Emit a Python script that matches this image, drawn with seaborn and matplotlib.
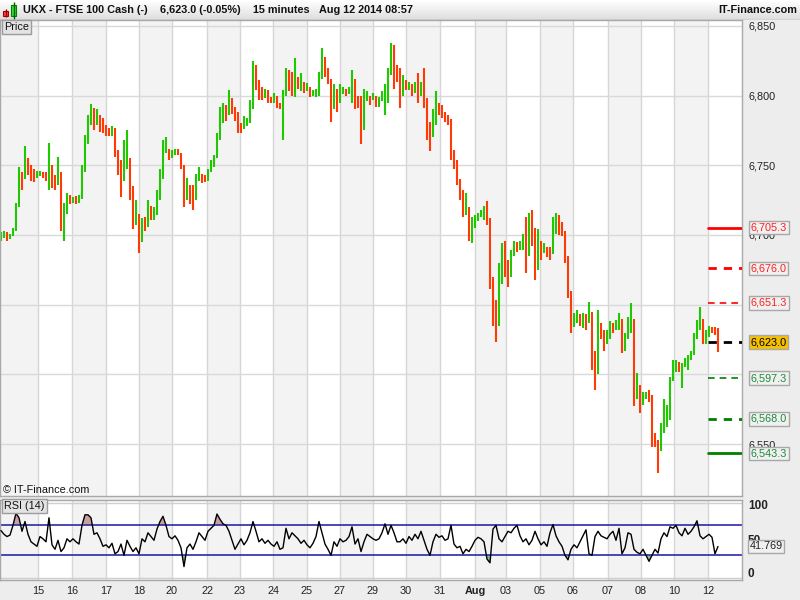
import numpy as np
import pandas as pd
import matplotlib
matplotlib.use("Agg")
import matplotlib.pyplot as plt
import matplotlib.transforms as mtrans
from matplotlib.colors import LinearSegmentedColormap
from matplotlib.patches import Rectangle
from matplotlib.ticker import FuncFormatter
import seaborn as sns

# ---------------- data ----------------
high = [
    6702, 6703, 6702, 6701, 6705, 6723, 6749, 6745, 6764, 6755,
    6750, 6747, 6746, 6746, 6745, 6745, 6766, 6750, 6743, 6756,
    6739, 6723, 6730, 6729, 6727, 6728, 6729, 6750, 6772, 6786,
    6794, 6791, 6790, 6786, 6784, 6779, 6777, 6778, 6777, 6761,
    6754, 6768, 6775, 6747, 6732, 6725, 6709, 6712, 6713, 6725,
    6721, 6720, 6732, 6747, 6768, 6770, 6762, 6761, 6762, 6762,
    6759, 6744, 6741, 6736, 6736, 6744, 6749, 6744, 6743, 6747,
    6754, 6757, 6773, 6792, 6795, 6793, 6804, 6797, 6792, 6785,
    6780, 6785, 6784, 6797, 6825, 6822, 6811, 6806, 6805, 6804,
    6799, 6802, 6799, 6795, 6804, 6820, 6818, 6817, 6827, 6813,
    6816, 6810, 6809, 6805, 6804, 6805, 6817, 6834, 6827, 6820,
    6805, 6808, 6805, 6808, 6806, 6805, 6806, 6818, 6810, 6800,
    6800, 6805, 6803, 6800, 6802, 6800, 6799, 6803, 6808, 6820,
    6838, 6836, 6822, 6820, 6815, 6811, 6810, 6808, 6810, 6816,
    6810, 6820, 6797, 6781, 6790, 6803, 6795, 6793, 6788, 6786,
    6783, 6761, 6754, 6739, 6732, 6730, 6718, 6713, 6714, 6716,
    6718, 6721, 6724, 6696, 6664, 6653, 6680, 6694, 6696, 6682,
    6689, 6696, 6695, 6696, 6701, 6713, 6716, 6718, 6692, 6704,
    6696, 6694, 6691, 6691, 6713, 6716, 6714, 6709, 6699, 6682,
    6653, 6644, 6646, 6643, 6644, 6643, 6652, 6632, 6617, 6646,
    6637, 6632, 6632, 6638, 6637, 6639, 6644, 6637, 6630, 6641,
    6651, 6625, 6601, 6592, 6587, 6587, 6589, 6585, 6558, 6553,
    6565, 6582, 6578, 6598, 6610, 6610, 6609, 6608, 6612, 6614,
    6617, 6630, 6639, 6648, 6634, 6632, 6635, 6634, 6634, 6633,
]
low = [
    6696, 6698, 6696, 6698, 6699, 6707, 6731, 6732, 6750, 6743,
    6739, 6738, 6741, 6742, 6741, 6739, 6732, 6734, 6732, 6736,
    6703, 6696, 6718, 6722, 6723, 6722, 6723, 6726, 6747, 6768,
    6779, 6775, 6779, 6774, 6773, 6771, 6771, 6771, 6756, 6743,
    6727, 6739, 6747, 6725, 6704, 6707, 6687, 6700, 6703, 6709,
    6711, 6711, 6714, 6725, 6743, 6759, 6754, 6755, 6757, 6757,
    6747, 6720, 6725, 6722, 6718, 6732, 6739, 6737, 6738, 6742,
    6747, 6749, 6759, 6775, 6780, 6782, 6787, 6787, 6782, 6773,
    6773, 6778, 6778, 6780, 6809, 6804, 6797, 6797, 6798, 6795,
    6795, 6795, 6791, 6790, 6768, 6804, 6803, 6800, 6799, 6805,
    6803, 6802, 6803, 6799, 6800, 6799, 6800, 6817, 6813, 6808,
    6781, 6796, 6788, 6796, 6801, 6800, 6801, 6795, 6790, 6791,
    6765, 6781, 6796, 6793, 6797, 6792, 6792, 6796, 6786, 6795,
    6815, 6805, 6810, 6791, 6805, 6804, 6804, 6800, 6803, 6795,
    6803, 6791, 6768, 6760, 6772, 6779, 6786, 6784, 6781, 6779,
    6754, 6747, 6736, 6725, 6713, 6714, 6696, 6694, 6706, 6711,
    6713, 6711, 6707, 6661, 6635, 6623, 6653, 6665, 6670, 6663,
    6680, 6689, 6688, 6689, 6689, 6673, 6701, 6692, 6668, 6682,
    6682, 6687, 6684, 6682, 6694, 6701, 6700, 6699, 6680, 6655,
    6630, 6634, 6637, 6635, 6633, 6632, 6637, 6603, 6589, 6617,
    6625, 6617, 6627, 6625, 6630, 6632, 6632, 6615, 6617, 6627,
    6630, 6577, 6582, 6572, 6578, 6582, 6580, 6548, 6548, 6529,
    6546, 6558, 6562, 6567, 6596, 6602, 6602, 6590, 6605, 6603,
    6610, 6617, 6627, 6632, 6622, 6622, 6627, 6630, 6628, 6616,
]
close = [
    6699, 6701, 6697, 6700, 6703, 6720, 6745, 6740, 6755, 6748,
    6745, 6742, 6744, 6745, 6743, 6742, 6750, 6740, 6738, 6745,
    6712, 6715, 6727, 6724, 6725, 6724, 6726, 6745, 6765, 6780,
    6790, 6782, 6785, 6778, 6776, 6775, 6773, 6775, 6760, 6750,
    6740, 6748, 6755, 6735, 6712, 6715, 6695, 6708, 6706, 6720,
    6715, 6718, 6725, 6740, 6760, 6762, 6756, 6759, 6760, 6758,
    6750, 6728, 6732, 6728, 6725, 6740, 6742, 6740, 6739, 6745,
    6752, 6755, 6768, 6785, 6790, 6786, 6798, 6792, 6788, 6778,
    6776, 6781, 6782, 6790, 6815, 6810, 6805, 6800, 6802, 6798,
    6797, 6800, 6795, 6792, 6800, 6812, 6808, 6806, 6810, 6808,
    6810, 6805, 6806, 6801, 6802, 6803, 6812, 6828, 6818, 6812,
    6790, 6800, 6795, 6802, 6803, 6801, 6804, 6812, 6798, 6795,
    6775, 6798, 6800, 6797, 6799, 6795, 6796, 6800, 6805, 6815,
    6830, 6820, 6815, 6800, 6808, 6806, 6807, 6802, 6806, 6800,
    6805, 6798, 6775, 6770, 6780, 6792, 6790, 6787, 6784, 6781,
    6760, 6752, 6740, 6730, 6718, 6720, 6700, 6705, 6710, 6714,
    6716, 6716, 6712, 6670, 6640, 6635, 6670, 6680, 6675, 6670,
    6685, 6692, 6690, 6693, 6698, 6685, 6710, 6705, 6675, 6690,
    6688, 6690, 6687, 6686, 6705, 6712, 6706, 6703, 6685, 6660,
    6635, 6640, 6641, 6638, 6639, 6637, 6645, 6610, 6600, 6635,
    6632, 6622, 6630, 6634, 6632, 6636, 6640, 6622, 6625, 6636,
    6640, 6590, 6590, 6580, 6584, 6585, 6583, 6555, 6553, 6545,
    6560, 6570, 6570, 6595, 6605, 6607, 6604, 6605, 6608, 6610,
    6614, 6625, 6635, 6640, 6628, 6629, 6632, 6631, 6630, 6623,
]
first_open = 6698

# RSI (14) values, one per bar
rsi_values = [
    63, 58, 55, 57, 70, 86, 80, 62, 75, 58,
    48, 45, 42, 55, 52, 48, 80, 44, 38, 50,
    35, 40, 52, 48, 52, 48, 45, 70, 84, 84,
    80, 58, 60, 52, 42, 44, 40, 46, 32, 35,
    45, 30, 50, 42, 35, 40, 32, 52, 48, 60,
    55, 50, 65, 75, 82, 70, 55, 52, 56, 50,
    40, 15, 40, 45, 38, 48, 60, 55, 50, 62,
    66, 70, 85, 78, 72, 70, 62, 50, 38, 45,
    52, 44, 50, 60, 75, 62, 48, 52, 46, 50,
    45, 42, 48, 38, 40, 66, 52, 60, 56, 52,
    46, 50, 44, 40, 46, 55, 75, 60, 45, 38,
    30, 48, 42, 52, 48, 50, 55, 68, 45, 52,
    35, 48, 58, 55, 52, 50, 52, 60, 72, 58,
    70, 60, 48, 48, 52, 46, 55, 50, 58, 52,
    62, 50, 38, 30, 48, 58, 54, 56, 50, 52,
    70, 45, 40, 42, 32, 38, 35, 42, 50, 54,
    52, 48, 25, 20, 65, 70, 52, 48, 55, 62,
    60, 66, 70, 56, 48, 52, 44, 50, 62, 52,
    44, 48, 42, 60, 71, 56, 48, 42, 30, 24,
    38, 44, 40, 48, 56, 64, 32, 30, 55, 62,
    56, 54, 52, 58, 62, 50, 66, 32, 40, 60,
    58, 38, 34, 32, 38, 30, 22, 30, 38, 33,
    52, 60, 55, 68, 66, 70, 60, 56, 66, 58,
    62, 68, 76, 56, 52, 55, 58, 54, 32, 41.769,
]

day_labels = ["15", "16", "17", "18", "20", "22", "23", "24", "25", "27", "29",
              "30", "31", "Aug", "03", "05", "06", "07", "08", "10", "12"]

levels = [6705.3, 6676.0, 6651.3, 6623.0, 6597.3, 6568.0, 6543.3]
price_ticks = [6550, 6600, 6650, 6700, 6750, 6800, 6850]
rsi_last = 41.769
rsi_bounds = [30, 70]

title_parts = ["UKX - FTSE 100 Cash (-)", "6,623.0 (-0.05%)", "15 minutes",
               "Aug 12 2014 08:57"]

# ---------------- layout / style constants ----------------
day_pos = [12.33, 23.67, 35.0, 46.0, 57.0, 68.67, 79.67, 90.67, 102.0, 113.0,
           124.0, 135.0, 146.33, 158.0, 168.33, 179.67, 190.67, 202.33,
           213.33, 224.33, 235.67]
XMIN, XMAX = -0.33, 247.0
W, H = 800, 600
GREEN = "#1fc800"
RED = "#ff3a06"
LVL_GREEN = "#1b8a3c"

level_styles = [
    dict(color="#ff0000", ls="-", lw=2.0, tc="#ff2020", fc="#f0f0f0"),
    dict(color="#ff0000", ls=(0, (3, 2.5)), lw=2.0, tc="#ff2020", fc="#f0f0f0"),
    dict(color="#ff0000", ls=(0, (4, 3)), lw=1.2, tc="#ff2020", fc="#f0f0f0"),
    dict(color="#000000", ls=(0, (3, 2.5)), lw=2.0, tc="#000000", fc="#f5c000"),
    dict(color="#008000", ls=(0, (4, 3)), lw=1.2, tc=LVL_GREEN, fc="#f0f0f0"),
    dict(color="#008000", ls=(0, (3, 2.5)), lw=2.0, tc=LVL_GREEN, fc="#f0f0f0"),
    dict(color="#008000", ls="-", lw=2.0, tc=LVL_GREEN, fc="#f0f0f0"),
]

sns.set_style("white")
plt.rcParams["font.family"] = ["Liberation Sans", "DejaVu Sans"]
FS = 7.8

idx = np.arange(len(close))
c = np.array(close, dtype=float)
o = np.concatenate([[first_open], c[:-1]])
hi = np.array(high, dtype=float)
lo = np.array(low, dtype=float)
up = c >= o
colors = np.where(up, GREEN, RED)
rsi = np.array(rsi_values, dtype=float)
df_rsi = pd.DataFrame({"bar": idx, "rsi": rsi})

fig = plt.figure(figsize=(W / 100, H / 100), dpi=100, facecolor="#ededed")


def fx(px):
    return px / W


def fy(py):
    return 1 - py / H


# ---------------- header ----------------
hax = fig.add_axes([0, fy(20), 1, 20 / H])
cm = LinearSegmentedColormap.from_list("hdr", ["#ffffff", "#dedede"])
hax.imshow(np.linspace(0, 1, 20).reshape(-1, 1), aspect="auto", cmap=cm,
           extent=[0, W, 0, 20], origin="upper")
hax.set_xlim(0, W)
hax.set_ylim(0, 20)
hax.axis("off")
hax.axhline(0.3, color="#a8a8a8", lw=1)
hax.vlines([5.5], [3], [11], color="#a00000", lw=1)
hax.add_patch(Rectangle((3, 4), 5, 5, fc="#ff4040", ec="#a00000", lw=0.8))
hax.vlines([13.5], [1.5], [18], color="#006000", lw=1)
hax.add_patch(Rectangle((11, 4), 5, 11, fc="#30e030", ec="#008000", lw=0.8))

for txt, xp in zip(title_parts, [23, 160, 253, 319]):
    fig.text(fx(xp), fy(10), txt, ha="left", va="center", fontsize=FS,
             fontweight="bold", color="#111111")
fig.text(fx(797), fy(10), "IT-Finance.com", ha="right", va="center",
         fontsize=FS, fontweight="bold", color="#111111")


def draw_bands(a):
    bounds = [XMIN] + day_pos + [XMAX]
    for k in range(len(bounds) - 1):
        if k % 2 == 0:
            a.axvspan(bounds[k], bounds[k + 1], color="#f3f3f3", lw=0, zorder=0)
    for p in day_pos:
        a.axvline(p, color="#d6d6d6", lw=1, zorder=0.5)


# ---------------- price panel ----------------
ax = fig.add_axes([0, fy(496), 742 / W, 476 / H])
ax.set_facecolor("white")
ax.set_xlim(XMIN, XMAX)
ax.set_ylim(6512.7, 6854.2)
draw_bands(ax)
for yv in price_ticks:
    ax.axhline(yv, color="#d9d9d9", lw=1, zorder=0.5)

ax.vlines(idx, lo, hi, colors=colors, lw=1.5, zorder=2)
body = np.maximum(np.abs(c - o), 0.6)
ax.bar(idx, body, bottom=np.minimum(o, c), width=0.8, color=colors,
       linewidth=0, zorder=2)

blend = mtrans.blended_transform_factory(ax.transAxes, ax.transData)
for lev, st in zip(levels, level_styles):
    ax.axhline(lev, xmin=708 / 742, xmax=1, color=st["color"], ls=st["ls"],
               lw=st["lw"], zorder=3)
    ax.text(1 + 8.5 / 742, lev, f"{lev:,.1f}", transform=blend, ha="left",
            va="center", fontsize=FS, color=st["tc"], clip_on=False, zorder=6,
            bbox=dict(boxstyle="square,pad=0.17", fc=st["fc"], ec="#a8a8a8",
                      lw=1))

ax.yaxis.tick_right()
ax.set_yticks(price_ticks)
ax.yaxis.set_major_formatter(FuncFormatter(lambda v, p: f"{v:,.0f}"))
ax.tick_params(axis="y", length=0, pad=4.5, labelsize=FS, labelcolor="#222222")
# labels fully covered by level boxes in the reference stay hidden
for lab, v in zip(ax.get_yticklabels(), price_ticks):
    if v in (6600, 6650):
        lab.set_visible(False)
ax.set_xticks([])
for sp in ax.spines.values():
    sp.set_color("#a8a8a8")
    sp.set_linewidth(1)

ax.text(4 / 742, (496 - 27) / 476, "Price", transform=ax.transAxes, ha="left",
        va="center", fontsize=FS, color="#111111", zorder=6,
        bbox=dict(boxstyle="square,pad=0.2", fc="#e3e3e3", ec="#9c9c9c", lw=1))
ax.text(3 / 742, (496 - 490) / 476, "\u00a9 IT-Finance.com",
        transform=ax.transAxes, ha="left", va="center", fontsize=FS,
        color="#111111", zorder=6)

# ---------------- RSI panel ----------------
ax2 = fig.add_axes([0, fy(580), 742 / W, 80 / H])
ax2.set_facecolor("white")
ax2.set_xlim(XMIN, XMAX)
ax2.set_ylim(-2.9, 103.7)
draw_bands(ax2)
ax2.axhline(0, color="#cfcfcf", lw=1, zorder=0.6)
ax2.axhline(100, color="#cfcfcf", lw=1, zorder=0.6)

lo_b, hi_b = rsi_bounds
ax2.fill_between(idx, rsi, hi_b, where=rsi > hi_b, interpolate=True,
                 color="#c9a0a0", lw=0, zorder=1)
ax2.fill_between(idx, rsi, lo_b, where=rsi < lo_b, interpolate=True,
                 color="#8fbf8f", lw=0, zorder=1)
ax2.axhline(hi_b, color="#2a2aa8", lw=1.2, zorder=1.5)
ax2.axhline(lo_b, color="#2a2aa8", lw=1.2, zorder=1.5)
sns.lineplot(data=df_rsi, x="bar", y="rsi", ax=ax2, color="black", lw=1,
             zorder=3)
ax2.set_ylabel("")
ax2.set_xlabel("")
ax2.set_yticks([])

ax2.set_xticks(day_pos)
ax2.set_xticklabels(day_labels)
ax2.tick_params(axis="x", length=0, pad=4.5, labelsize=FS, labelcolor="#222222")
for lab in ax2.get_xticklabels():
    if lab.get_text() == "Aug":
        lab.set_fontweight("bold")
for sp in ax2.spines.values():
    sp.set_color("#a8a8a8")
    sp.set_linewidth(1)

blend2 = mtrans.blended_transform_factory(ax2.transAxes, ax2.transData)
ax2.text(1 + 6 / 742, 96, "100", transform=blend2, ha="left", va="center",
         fontsize=8.5, fontweight="bold", color="#222222", clip_on=False)
ax2.text(1 + 6 / 742, 48.5, "50", transform=blend2, ha="left", va="center",
         fontsize=8.5, fontweight="bold", color="#222222", clip_on=False)
ax2.text(1 + 6 / 742, 4.5, "0", transform=blend2, ha="left", va="center",
         fontsize=8.5, fontweight="bold", color="#222222", clip_on=False)
ax2.text(1 + 7.5 / 742, rsi_last, f"{rsi_last:.3f}", transform=blend2,
         ha="left", va="center", fontsize=FS, color="#222222", clip_on=False,
         zorder=6,
         bbox=dict(boxstyle="square,pad=0.17", fc="#f0f0f0", ec="#a8a8a8", lw=1))
ax2.text(4 / 742, (580 - 506) / 80, "RSI (14)", transform=ax2.transAxes,
         ha="left", va="center", fontsize=FS, color="#111111", zorder=6,
         bbox=dict(boxstyle="square,pad=0.2", fc="#e3e3e3", ec="#9c9c9c", lw=1))

fig.savefig("out.png", dpi=100, facecolor=fig.get_facecolor())
